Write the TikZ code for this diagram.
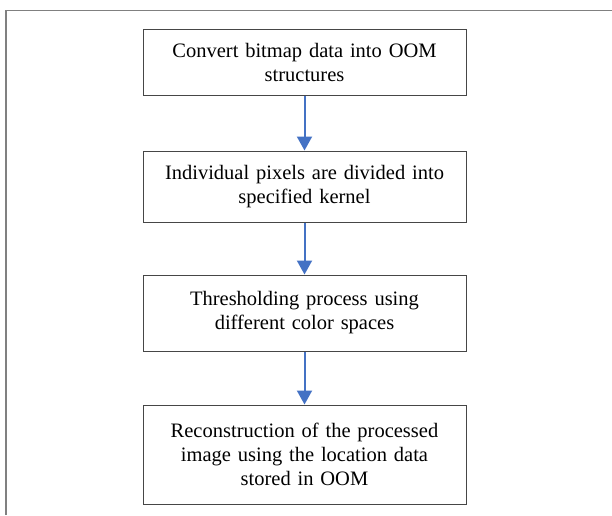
\documentclass[tikz,border=0pt]{standalone}
\usepackage{fontspec}
\setmainfont{Liberation Serif}
\usetikzlibrary{arrows.meta}
\definecolor{framegray}{RGB}{128,128,128}
\definecolor{boxgray}{RGB}{70,70,70}
\definecolor{flowblue}{RGB}{68,114,196}
\tikzset{
  stepbox/.style={draw=boxgray, line width=1pt, rectangle, minimum width=323pt,
    text width=310pt, align=center, inner sep=0pt,
    font=\fontsize{20.5}{24}\selectfont},
  flow/.style={draw=flowblue, line width=2pt,
    -{Triangle[width=15pt,length=14pt]}}
}
\begin{document}
\begin{tikzpicture}[x=1pt,y=-1pt]
  \useasboundingbox (0,0) rectangle (612,515);
  % outer frame (open at right and bottom)
  \draw[framegray, line width=1.5pt] (6,515) -- (6,10.7) -- (612,10.7);
  % process steps
  \node[stepbox, minimum height=66pt] (s1) at (304.5,62)
    {Convert bitmap data into OOM\\structures};
  \node[stepbox, minimum height=71pt] (s2) at (304.5,186.5)
    {Individual pixels are divided into\\specified kernel};
  \node[stepbox, minimum height=76pt] (s3) at (304.5,313)
    {Thresholding process using\\different color spaces};
  \node[stepbox, minimum height=99pt] (s4) at (304.5,454.5)
    {Reconstruction of the processed\\image using the location data\\stored in OOM};
  % connectors
  \draw[flow] (s1.south) -- (s2.north);
  \draw[flow] (s2.south) -- (s3.north);
  \draw[flow] (s3.south) -- (s4.north);
\end{tikzpicture}
\end{document}
